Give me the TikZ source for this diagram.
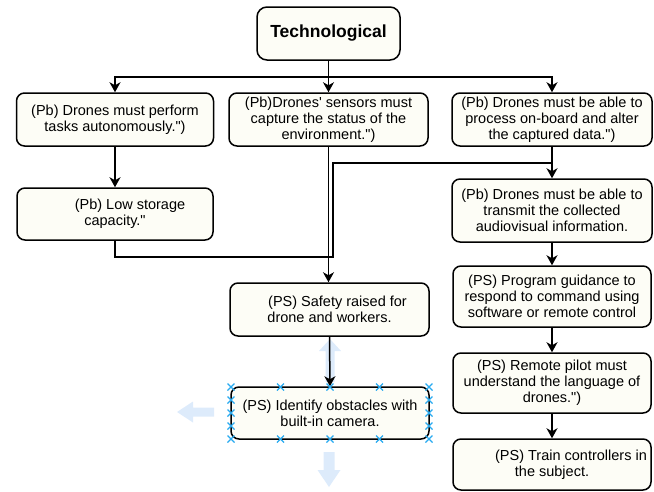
\documentclass[tikz,border=0pt]{standalone}
\usepackage{fontspec}
\setmainfont{Liberation Sans}
\usetikzlibrary{arrows.meta}
\definecolor{boxfill}{RGB}{253,253,246}
\definecolor{hintblue}{RGB}{221,235,251}
\definecolor{markblue}{RGB}{40,170,240}
\newcommand{\dq}{\textquotedbl}
\newcommand{\sq}{\textquotesingle}
\tikzset{
  box/.style={draw=black, line width=1.5pt, rounded corners=8pt, fill=boxfill,
    align=center, inner sep=2pt,
    font=\fontsize{14.5}{15.8}\selectfont},
  arr/.style={line width=1.5pt, -{Stealth[length=10pt,width=11pt,inset=3pt]}},
  wire/.style={line width=1.5pt},
  hint/.style={fill=hintblue, draw=none},
  selmark/.pic={\draw[markblue, line width=1.3pt] (-3.5,-3.5) -- (3.5,3.5) (-3.5,3.5) -- (3.5,-3.5);}
}
\begin{document}
\begin{tikzpicture}[x=1pt,y=-1pt]
\useasboundingbox (0,0) rectangle (654,491);

% faint hover arrows (behind)
\fill[hint] (330,339) -- (341,351) -- (334.5,351) -- (334.5,382) -- (325.5,382) -- (325.5,351) -- (319,351) -- cycle;
\fill[hint] (177,412) -- (193,401.5) -- (193,407.5) -- (214,407.5) -- (214,416.5) -- (193,416.5) -- (193,422.5) -- cycle;
\fill[hint] (329,487) -- (340.5,470) -- (334.5,470) -- (334.5,452) -- (323.5,452) -- (323.5,470) -- (317.5,470) -- cycle;

% nodes
\node[box, minimum width=143pt, minimum height=53pt, rounded corners=10pt,
      font=\fontsize{17.5}{20}\selectfont\bfseries] (tech) at (328.5,33.5) {Technological};

\node[box, minimum width=197pt, minimum height=53pt] (b1) at (115,119.5)
  {(Pb) Drones must perform\\tasks autonomously.\dq)};
\node[box, minimum width=199pt, minimum height=53pt] (b2) at (328.5,119.5)
  {(Pb)Drones\sq{} sensors must\\capture the status of the\\environment.\dq)};
\node[box, minimum width=200pt, minimum height=53pt] (b3) at (552,119.5)
  {(Pb) Drones must be able to\\process on-board and alter\\the captured data.\dq)};

\node[box, minimum width=196pt, minimum height=52pt] (b4) at (115,214)
  {\hspace*{30pt}(Pb) Low storage\\capacity.\dq};

\node[box, minimum width=200pt, minimum height=63pt] (b5) at (552,210.5)
  {(Pb) Drones must be able to\\transmit the collected\\audiovisual information.};
\node[box, minimum width=198pt, minimum height=61pt] (b6) at (552,296.5)
  {(PS) Program guidance to\\respond to command using\\software or remote control};
\node[box, minimum width=198pt, minimum height=60pt] (b7) at (552,383)
  {(PS) Remote pilot must\\understand the language of\\drones.\dq)};
\node[box, minimum width=198pt, minimum height=51pt] (b8) at (552,464.5)
  {\hspace*{38pt}(PS) Train controllers in\\the subject.};

\node[box, minimum width=199pt, minimum height=53pt] (safety) at (329.5,309.5)
  {\hspace*{16pt}(PS) Safety raised for\\drone and workers.};
\node[box, minimum width=198pt, minimum height=52pt] (ident) at (330,413)
  {(PS) Identify obstacles with\\built-in camera.};

% connectors
\draw[arr] (tech.south) -- (tech.south |- b2.north);
\draw[arr] (tech.south) -- ++(0,16) -| (b1.north);
\draw[arr] (tech.south) -- ++(0,16) -| (b3.north);
\draw[arr] (b1.south) -- (b4.north);
\draw[arr] (b3.south) -- (b5.north);
\coordinate (join) at (552,163);
\coordinate (riseL) at (333,257);
\draw[wire] (b4.south) -- (b4.south |- riseL) -- (riseL) -- (riseL |- join) -- (join);
\draw[arr] (b2.south) -- (b2.south |- safety.north);
\draw[arr] (safety.south) -- (ident.north);
\draw[arr] (b5.south) -- (b6.north);
\draw[arr] (b6.south) -- (b7.north);
\draw[arr] (b7.south) -- (b8.north);

% selection markers on the identify box
\foreach \mx in {231,280.5,330,379.5,429} {
  \pic at (\mx,387) {selmark};
  \pic at (\mx,439) {selmark};
}
\foreach \my in {400,413,426} {
  \pic at (231,\my) {selmark};
  \pic at (429,\my) {selmark};
}
\end{tikzpicture}
\end{document}
